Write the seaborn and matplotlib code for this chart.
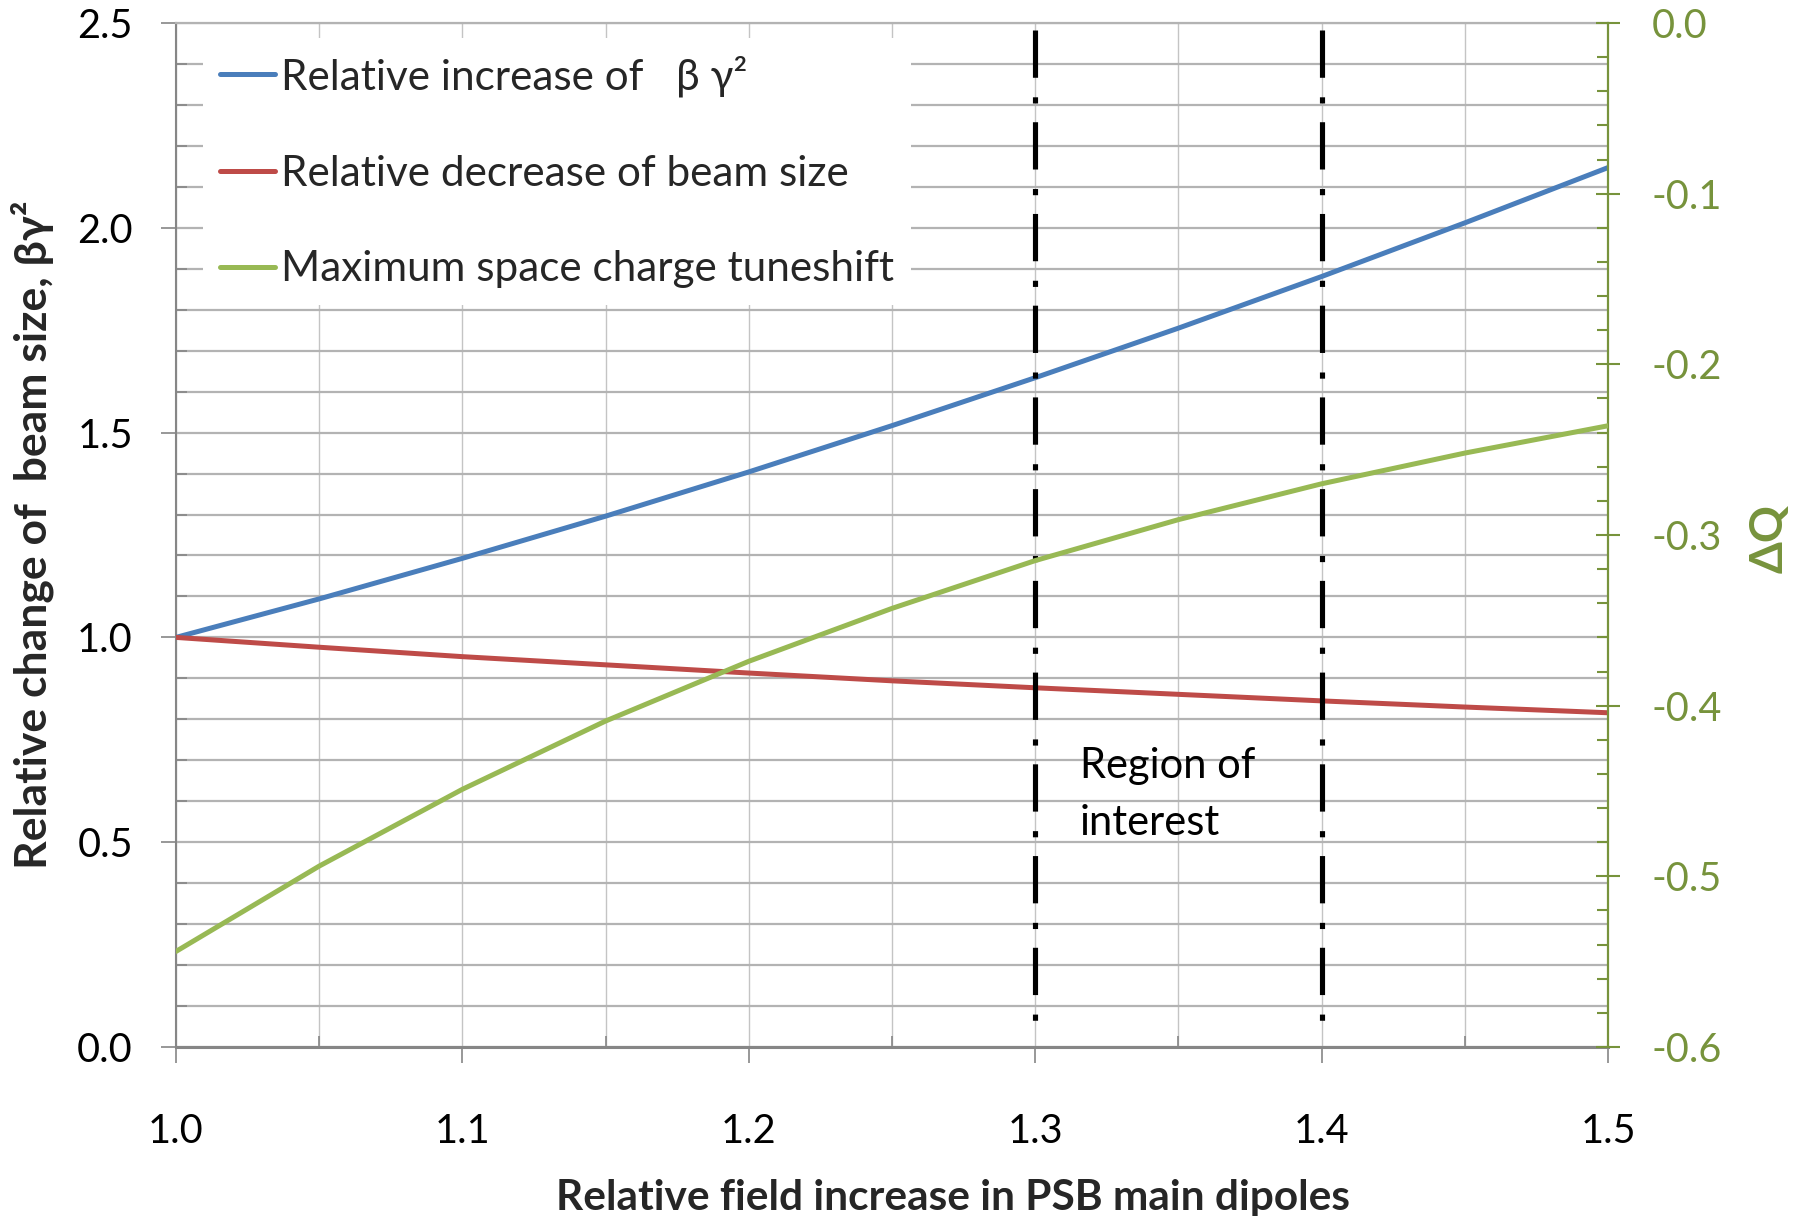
import matplotlib
matplotlib.use("Agg")
import matplotlib.pyplot as plt
import seaborn as sns
import pandas as pd
from matplotlib.ticker import MultipleLocator, FormatStrFormatter

# ---------------- data ----------------
field_ratio = [1.00, 1.05, 1.10, 1.15, 1.20, 1.25, 1.30, 1.35, 1.40, 1.45, 1.50]
beta_gamma2_increase = [1.000, 1.094, 1.193, 1.296, 1.404, 1.517, 1.634, 1.755, 1.881, 2.012, 2.147]
beam_size_decrease = [1.000, 0.976, 0.953, 0.933, 0.913, 0.894, 0.877, 0.861, 0.845, 0.830, 0.816]
max_tuneshift = [-0.544, -0.494, -0.449, -0.409, -0.374, -0.343, -0.315, -0.291, -0.270, -0.252, -0.236]
region_bounds = [1.3, 1.4]
series_labels = ["Relative increase of   \u03b2 \u03b3\u00b2",
                 "Relative decrease of beam size",
                 "Maximum space charge tuneshift"]

# ---------------- style ----------------
sns.set_theme(style="white")
plt.rcParams["font.family"] = ["Lato", "DejaVu Sans"]
plt.rcParams["axes.unicode_minus"] = False

BLUE = "#4A7EBB"
RED = "#BE4B48"
GREEN = "#98B954"
AXGREEN = "#77933C"
AXGREY = "#868686"

fig = plt.figure(figsize=(17.93, 12.16), dpi=100)
ax = fig.add_axes([0.09816, 0.13898, 0.79866, 0.84211])
ax2 = ax.twinx()

df = pd.DataFrame({"x": field_ratio, "bg2": beta_gamma2_increase,
                   "size": beam_size_decrease, "dq": max_tuneshift})

sns.lineplot(data=df, x="x", y="bg2", ax=ax, color=BLUE, lw=3.6, legend=False, zorder=5)
sns.lineplot(data=df, x="x", y="size", ax=ax, color=RED, lw=3.6, legend=False, zorder=5)
sns.lineplot(data=df, x="x", y="dq", ax=ax2, color=GREEN, lw=3.6, legend=False, zorder=5)

line_blue = ax.lines[0]
line_red = ax.lines[1]
line_green = ax2.lines[0]

# region of interest boundaries
for xb in region_bounds:
    ax.plot([xb, xb], [0.993, 0.0175], transform=ax.get_xaxis_transform(),
            color="black", lw=3.7, linestyle=(0, (9.2, 3.8, 1.2, 3.65)), zorder=6)

ax.text(1.3156, 0.5176, "Region of\ninterest", fontsize=30, ha="left", va="baseline",
        linespacing=1.6, color="black", zorder=7)

# ---------------- axes ----------------
ax.set_xlim(1.0, 1.5)
ax.set_ylim(0.0, 2.5)
ax2.set_ylim(-0.6, 0.0)

ax.xaxis.set_major_locator(MultipleLocator(0.1))
ax.xaxis.set_minor_locator(MultipleLocator(0.05))
ax.yaxis.set_major_locator(MultipleLocator(0.5))
ax.yaxis.set_minor_locator(MultipleLocator(0.1))
ax2.yaxis.set_major_locator(MultipleLocator(0.1))
ax2.yaxis.set_minor_locator(MultipleLocator(0.02))
ax.xaxis.set_major_formatter(FormatStrFormatter("%.1f"))
ax.yaxis.set_major_formatter(FormatStrFormatter("%.1f"))
ax2.yaxis.set_major_formatter(FormatStrFormatter("%.1f"))

ax.set_axisbelow(True)
ax.grid(True, which="both", axis="y", color="#B3B3B3", lw=1.6)
ax.grid(True, which="both", axis="x", color="#C4C4C4", lw=1.0)

ax.tick_params(axis="x", which="major", direction="out", length=11.5, width=1.2,
               color=AXGREY, pad=36, labelsize=28.5, labelcolor="black", bottom=True)
ax.tick_params(axis="x", which="minor", direction="in", length=8, width=1.2,
               color=AXGREY, bottom=True)
ax.tick_params(axis="y", which="major", direction="out", length=11, width=1.2,
               color=AXGREY, pad=20, labelsize=28.5, labelcolor="black", left=True, right=False)
ax.tick_params(axis="y", which="minor", direction="in", length=8, width=1.2,
               color=AXGREY, left=True, right=False)
ax2.tick_params(axis="y", which="major", direction="inout", length=17, width=1.5,
                color=AXGREEN, pad=23, labelsize=28.5, labelcolor=AXGREEN, right=True, left=False)
ax2.tick_params(axis="y", which="minor", direction="in", length=8, width=1.5,
                color=AXGREEN, right=True, left=False)

ax.spines["right"].set_visible(False)
ax.spines["top"].set_color("#B3B3B3")
ax.spines["top"].set_linewidth(1.6)
ax.spines["left"].set_color(AXGREY)
ax.spines["left"].set_linewidth(1.5)
ax.spines["bottom"].set_color(AXGREY)
ax.spines["bottom"].set_linewidth(2.2)
for s in ["top", "left", "bottom"]:
    ax2.spines[s].set_visible(False)
ax2.spines["right"].set_color(AXGREEN)
ax2.spines["right"].set_linewidth(1.6)

ax.set_xlabel("Relative field increase in PSB main dipoles", fontsize=30.5, fontweight="bold")
ax.xaxis.set_label_coords(0.5426, -0.129)
ax.set_ylabel("Relative change of  beam size, \u03b2\u03b3\u00b2", fontsize=32, fontweight="bold")
ax.yaxis.set_label_coords(-0.0850, 0.500)
ax2.set_ylabel("\u0394Q", fontsize=33, fontweight="bold", color=AXGREEN)
ax2.yaxis.set_label_coords(1.0985, 0.497)

leg = ax2.legend([line_blue, line_red, line_green], series_labels,
                 loc="upper left", bbox_to_anchor=(0.0189, 0.985),
                 frameon=True, facecolor="white", edgecolor="none", framealpha=1,
                 fancybox=False, prop={"family": ["Lato", "DejaVu Serif"], "size": 30.4},
                 handlelength=1.3, handletextpad=0.15, labelspacing=1.37,
                 borderpad=0.4, borderaxespad=0)
leg.set_zorder(20)

fig.savefig("out.png", dpi=100, facecolor="white")
